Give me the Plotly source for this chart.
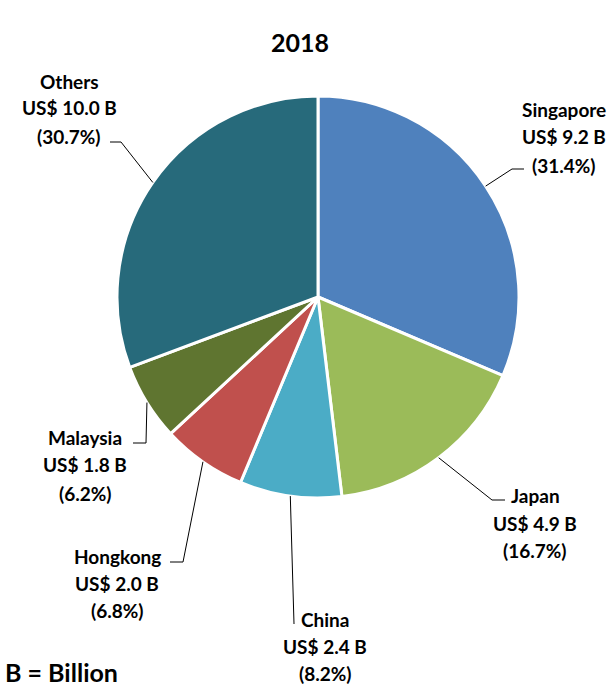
import math
import plotly.graph_objects as go

# Export destinations, 2018
countries = ["Singapore", "Japan", "China", "Hongkong", "Malaysia", "Others"]
values_busd = [9.2, 4.9, 2.4, 2.0, 1.8, 10.0]
shares_pct = [31.4, 16.7, 8.2, 6.8, 6.2, 30.7]
colors = ["#4F81BD", "#9BBB59", "#4BACC6", "#C0504D", "#5F7530", "#276A7B"]

W, H = 616, 692
CX, CY, R = 318, 297, 201  # pie centre and radius in pixels
FONT = "Lato"


def px(x):
    return x / W


def py(y):
    return 1 - y / H


fig = go.Figure(
    go.Pie(
        labels=countries,
        values=shares_pct,
        sort=False,
        direction="clockwise",
        rotation=0,
        textinfo="none",
        hoverinfo="label+percent",
        marker=dict(colors=colors, line=dict(color="white", width=3)),
        domain=dict(x=[px(CX - R), px(CX + R)], y=[py(CY + R), py(CY - R)]),
        showlegend=False,
    )
)

# Label block placement: centre x and the y of each of the three lines,
# plus the leader-line bend and end points (pixels).
label_layout = {
    "Singapore": dict(x=564, ys=[109, 137, 165], path=[(512, 169), (524, 169)]),
    "Japan": dict(x=535, ys=[495, 523, 550], path=[(492, 500), (505, 500)]),
    "China": dict(x=325, ys=[619, 646, 673], path=[(294, 624)]),
    "Hongkong": dict(x=117, ys=[556, 583, 610], path=[(183, 562), (170, 562)]),
    "Malaysia": dict(x=85, ys=[437, 465, 493], path=[(146, 443), (133, 443)]),
    "Others": dict(x=69, ys=[81, 108, 136], path=[(121, 142), (110, 142)]),
}

annotations = []
shapes = []
total = sum(shares_pct)
cum = 0.0
for name, val, pct in zip(countries, values_busd, shares_pct):
    mid = (cum + pct / 2) / total * 2 * math.pi
    cum += pct
    sx = CX + R * math.sin(mid)
    sy = CY - R * math.cos(mid)
    lay = label_layout[name]
    lines = [name, f"US$ {val:.1f} B", f"({pct:.1f}%)"]
    for text, y in zip(lines, lay["ys"]):
        annotations.append(
            dict(
                text=f"<b>{text}</b>", x=px(lay["x"]), y=py(y),
                xref="paper", yref="paper", xanchor="center", yanchor="middle",
                showarrow=False, font=dict(family=FONT, size=19, color="black"),
            )
        )
    pts = [(sx, sy)] + lay["path"]
    d = "M " + " L ".join(f"{px(a)},{py(b)}" for a, b in pts)
    shapes.append(
        dict(type="path", path=d, xref="paper", yref="paper",
             line=dict(color="black", width=1))
    )

annotations.append(
    dict(text="<b>2018</b>", x=px(300), y=py(42), xref="paper", yref="paper",
         xanchor="center", yanchor="middle", showarrow=False,
         font=dict(family=FONT, size=25, color="black"))
)
annotations.append(
    dict(text="<b>B = Billion</b>", x=px(3), y=py(672), xref="paper", yref="paper",
         xanchor="left", yanchor="middle", showarrow=False,
         font=dict(family=FONT, size=25, color="black"))
)

fig.update_layout(
    width=W, height=H,
    margin=dict(l=0, r=0, t=0, b=0),
    paper_bgcolor="white", plot_bgcolor="white",
    annotations=annotations, shapes=shapes,
)

fig.write_html("out.html")
